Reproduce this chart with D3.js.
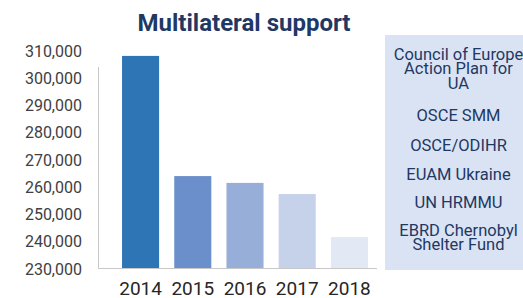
<!DOCTYPE html>
<html>
<head>
<meta charset="utf-8">
<script src="https://cdn.jsdelivr.net/npm/d3@7"></script>
<style>
  body { margin: 0; background: #fff; }
  svg { display: block; font-family: Roboto, "Noto Sans", sans-serif; }
</style>
</head>
<body>
<div id="chart"></div>
<script>
// values
var years = ["2014", "2015", "2016", "2017", "2018"];
var amounts = [308200, 264100, 261600, 257500, 241700];
var barColors = ["#2e75b6", "#6a8fcb", "#97aed8", "#c6d1ea", "#e3e8f5"];
var yTicks = [230000, 240000, 250000, 260000, 270000, 280000, 290000, 300000, 310000];
var legendLines = [
  ["Council of Europe", "Action Plan for", "UA"],
  ["OSCE SMM"],
  ["OSCE/ODIHR"],
  ["EUAM Ukraine"],
  ["UN HRMMU"],
  ["EBRD Chernobyl", "Shelter Fund"]
];

var width = 523, height = 298;
var svg = d3.select("#chart").append("svg").attr("width", width).attr("height", height);

var x = d3.scaleBand().domain(years).range([109.5, 380.5]).paddingInner(0.29).paddingOuter(0.24);
var y = d3.scaleLinear().domain([230000, 310000]).range([269, 51]);

// title
svg.append("text")
  .attr("x", 244).attr("y", 31)
  .attr("text-anchor", "middle")
  .style("font-size", "24px").style("font-weight", "bold").style("fill", "#1f3864")
  .text("Multilateral support");

// y axis labels
var yAxis = svg.append("g").attr("transform", "translate(82,0)")
  .call(d3.axisLeft(y).tickValues(yTicks).tickFormat(d3.format(",")).tickSize(0).tickPadding(0));
yAxis.select(".domain").remove();
yAxis.selectAll("text").style("font-size", "16px").style("fill", "#404040").style("font-family", "Roboto, sans-serif");

// bars
svg.selectAll(".bar").data(years).enter().append("rect")
  .attr("class", "bar")
  .attr("x", function(d) { return x(d); })
  .attr("width", x.bandwidth())
  .attr("y", function(d, i) { return y(amounts[i]); })
  .attr("height", function(d, i) { return y(230000) - y(amounts[i]); })
  .style("fill", function(d, i) { return barColors[i]; });

// axis lines
svg.append("line").attr("x1", 98.5).attr("x2", 98.5).attr("y1", 67).attr("y2", 269)
  .style("stroke", "#c8c8c8").style("stroke-width", 1);
svg.append("line").attr("x1", 98).attr("x2", 377).attr("y1", 268.5).attr("y2", 268.5)
  .style("stroke", "#c8c8c8").style("stroke-width", 1);

// x axis labels
var xAxis = svg.append("g").attr("transform", "translate(0,281.5)")
  .call(d3.axisBottom(x).tickSize(0).tickPadding(0));
xAxis.select(".domain").remove();
xAxis.selectAll("text").style("font-size", "19px").style("fill", "#262626").style("font-family", "Roboto, sans-serif");

// legend box
svg.append("rect").attr("x", 385).attr("y", 35).attr("width", 138).attr("height", 235)
  .style("fill", "#dae3f3");

var groupTops = [54, 115, 145, 174, 202, 230];
var lg = svg.append("g");
legendLines.forEach(function(lines, gi) {
  lines.forEach(function(t, li) {
    lg.append("text")
      .attr("x", 458.5).attr("y", groupTops[gi] + li * 14.5)
      .attr("dy", "0.35em")
      .attr("text-anchor", "middle")
      .style("font-size", "16.5px").style("fill", "#1f3864")
      .text(t);
  });
});
</script>
</body>
</html>
